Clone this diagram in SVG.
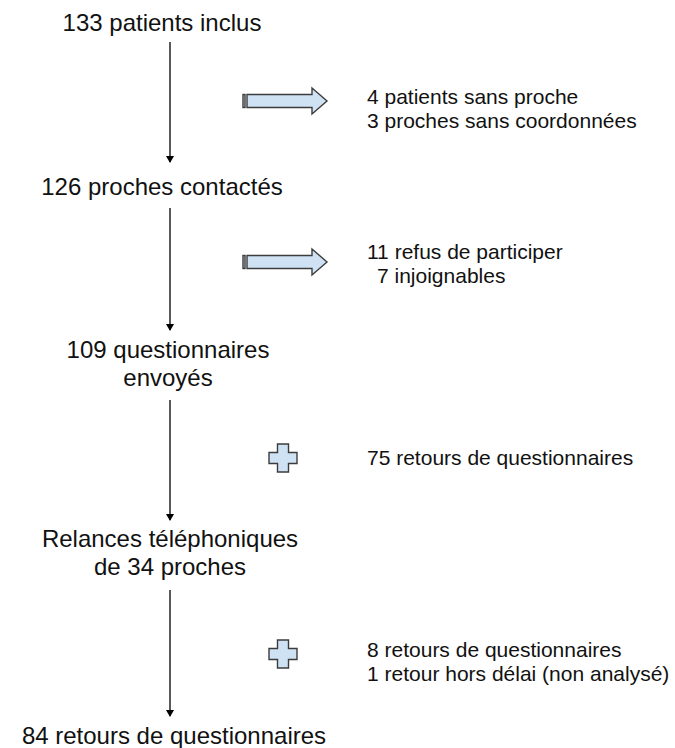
<svg xmlns="http://www.w3.org/2000/svg" width="675" height="748" viewBox="0 0 675 748">
<defs>
<style>
.main{font-family:"Liberation Sans",Arial,sans-serif;font-size:24px;fill:#111;text-anchor:middle}
.side{font-family:"Liberation Sans",Arial,sans-serif;font-size:21px;fill:#111}
.conn{stroke:#000;stroke-width:1.3;fill:none;marker-end:url(#ah)}
.shape{fill:#cfe2f3;stroke:#3c3c3c;stroke-width:1.4;stroke-linejoin:miter}
</style>
<marker id="ah" markerWidth="8" markerHeight="8" refX="6" refY="4" orient="auto" markerUnits="userSpaceOnUse">
<path d="M0,0 L7,4 L0,8 Z" fill="#000"/>
</marker>
<g id="rarrow">
<rect x="0" y="-6.5" width="2" height="13" class="shape"/>
<path d="M4,-6.5 H69 V-13 L84,0 L69,13 V6.5 H4 Z" class="shape"/>
</g>
<path id="plus" d="M-5.5,-14 H5.5 V-5.5 H14 V5.5 H5.5 V14 H-5.5 V5.5 H-14 V-5.5 H-5.5 Z" class="shape"/>
</defs>
<rect width="675" height="748" fill="#fff"/>
<g id="connectors">
<line x1="170" y1="42" x2="170" y2="162" class="conn"/>
<line x1="170" y1="208" x2="170" y2="330" class="conn"/>
<line x1="170" y1="400" x2="170" y2="520" class="conn"/>
<line x1="170" y1="590" x2="170" y2="716" class="conn"/>
</g>
<g id="n1"><text class="main" x="162" y="31">133 patients inclus</text></g>
<g id="n2"><text class="main" x="162" y="195">126 proches contactés</text></g>
<g id="n3"><text class="main" x="168" y="358">109 questionnaires</text><text class="main" x="168" y="386">envoyés</text></g>
<g id="n4"><text class="main" x="170" y="547">Relances téléphoniques</text><text class="main" x="170" y="575">de 34 proches</text></g>
<g id="n5"><text class="main" x="174" y="744">84 retours de questionnaires</text></g>
<g id="arrow1"><use href="#rarrow" x="243" y="101"/></g>
<g id="arrow2"><use href="#rarrow" x="243" y="262"/></g>
<g id="plus1"><use href="#plus" x="283" y="458"/></g>
<g id="plus2"><use href="#plus" x="283" y="654"/></g>
<g id="e1"><text class="side" x="367" y="104">4 patients sans proche</text><text class="side" x="367" y="128">3 proches sans coordonnées</text></g>
<g id="e2"><text class="side" x="367" y="259">11 refus de participer</text><text class="side" x="377" y="283">7 injoignables</text></g>
<g id="e3"><text class="side" x="367" y="465">75 retours de questionnaires</text></g>
<g id="e4"><text class="side" x="367" y="657">8 retours de questionnaires</text><text class="side" x="367" y="681">1 retour hors délai (non analysé)</text></g>
</svg>
